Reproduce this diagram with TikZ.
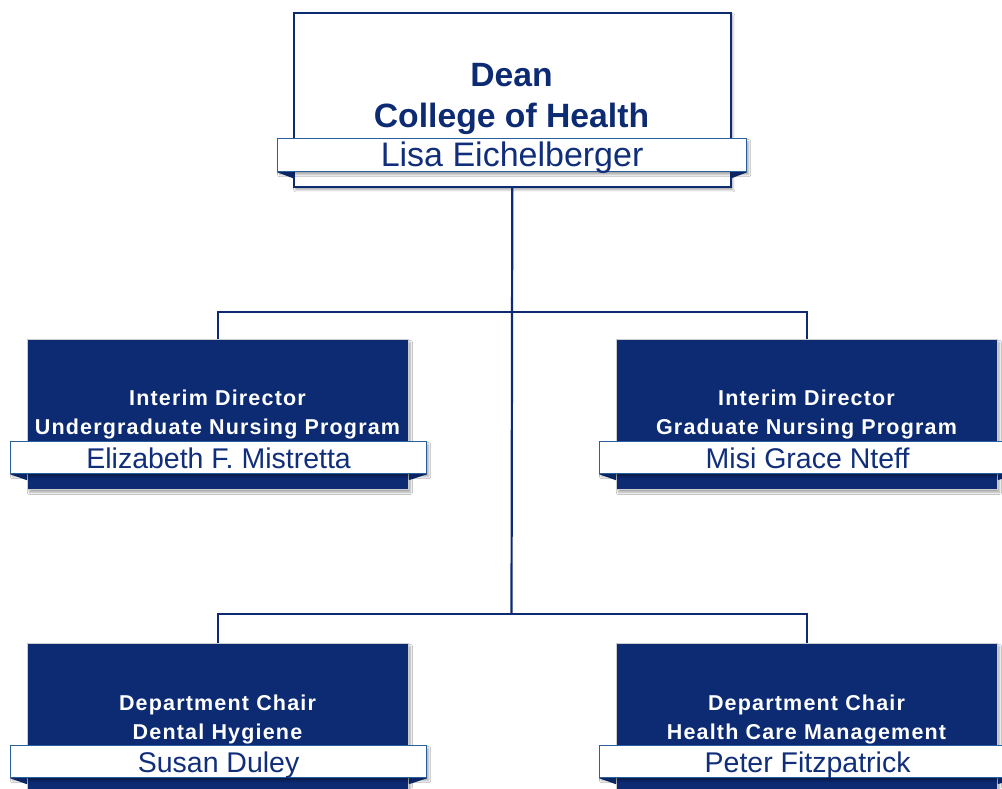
\documentclass[tikz,border=0pt]{standalone}
\usepackage{fontspec}
\setmainfont{Liberation Sans}
\newfontfamily\spacedfont[LetterSpace=5.5]{Liberation Sans}
\usetikzlibrary{shadows.blur}
\definecolor{navy}{HTML}{0D2B73}
\definecolor{namecol}{HTML}{102E7A}
\definecolor{ribbonc}{HTML}{2A5F9E}
\tikzset{
  softshadow/.style={blur shadow={shadow xshift=2pt,shadow yshift=-3pt,shadow blur steps=6,shadow opacity=35}},
  darkbox/.style={fill=navy,draw=gray!40,line width=0.8pt,anchor=north west,minimum width=381,minimum height=150,inner sep=0,softshadow},
  topbox/.style={fill=white,draw=navy,line width=1.6pt,anchor=north west,minimum width=437,minimum height=174,inner sep=0,softshadow},
  ribbon/.style={fill=white,draw=ribbonc,line width=1.2pt,anchor=north west,minimum width=416,minimum height=32,inner sep=0,text=namecol,text height=22pt,text depth=0pt,font=\fontsize{28.5}{30}\selectfont,softshadow},
  topribbon/.style={ribbon,minimum width=469,minimum height=33,text height=22.5pt,font=\fontsize{34}{36}\selectfont},
  titletext/.style={text=white,align=center,inner sep=0,font=\spacedfont\bfseries\fontsize{21.5}{29}\selectfont},
  deantext/.style={text=navy,align=center,inner sep=0,font=\bfseries\fontsize{33.7}{41}\selectfont},
  fold/.style={fill=navy!85!black},
  conn/.style={draw=navy,line width=2.2pt}
}
\begin{document}
\begin{tikzpicture}[x=1pt,y=-1pt]
\useasboundingbox (0,0) rectangle (1002,788);
\fill[white] (0,0) rectangle (1002,788);
% connectors
\coordinate (j1) at (511.5,312);
\coordinate (j2) at (511.5,614);
% top box
\node[topbox] (dean) at (293,12) {};
\node[deantext] (deant) at (511.5,99) {Dean\\College of Health};
% mid and bottom boxes
\node[darkbox] (ug) at (27,339) {};
\node[darkbox] (gr) at (616,339) {};
\node[darkbox] (dh) at (27,643) {};
\node[darkbox] (hc) at (616,643) {};
\draw[conn] (dean.south) -- (j2);
\draw[conn] (ug.north) -- (ug.north |- j1) -- (gr.north |- j1) -- (gr.north);
\draw[conn] (dh.north) -- (dh.north |- j2) -- (hc.north |- j2) -- (hc.north);
\node[titletext] (ugt) at (217.5,414) {Interim Director\\Undergraduate Nursing Program};
\node[titletext] (grt) at (806.5,414) {Interim Director\\Graduate Nursing Program};
\node[titletext] (dht) at (217.5,719) {Department Chair\\Dental Hygiene};
\node[titletext] (hct) at (806.5,719) {Department Chair\\Health Care Management};
% ribbons
\node[topribbon] (deanr) at (277,138) {Lisa Eichelberger};
\node[ribbon] (ugr) at (10,441) {Elizabeth F. Mistretta};
\node[ribbon] (grr) at (599,441) {Misi Grace Nteff};
\node[ribbon] (dhr) at (10,745) {Susan Duley};
\node[ribbon] (hcr) at (599,745) {Peter Fitzpatrick};
% folds
\foreach \r/\b in {deanr/dean,ugr/ug,grr/gr,dhr/dh,hcr/hc}{
  \fill[fold] (\r.south west) -- (\r.south west -| \b.west) -- ([yshift=-6pt]\r.south west -| \b.west) -- cycle;
  \fill[fold] (\r.south east) -- (\r.south east -| \b.east) -- ([yshift=-6pt]\r.south east -| \b.east) -- cycle;
}
\end{tikzpicture}
\end{document}
